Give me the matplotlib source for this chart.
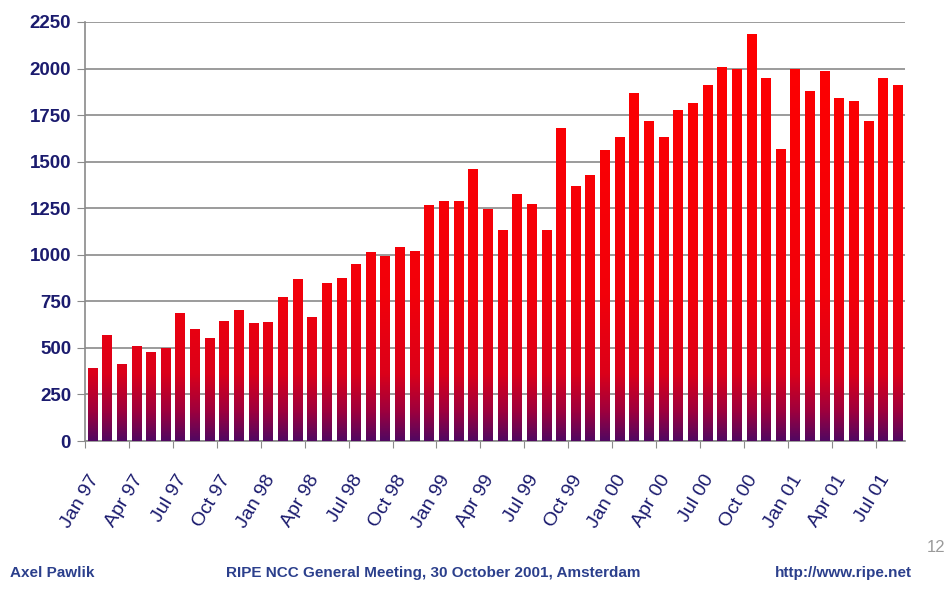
import matplotlib
matplotlib.use("Agg")
import matplotlib.pyplot as plt
import numpy as np
from matplotlib.colors import LinearSegmentedColormap

months = ["Jan", "Feb", "Mar", "Apr", "May", "Jun", "Jul", "Aug", "Sep", "Oct", "Nov", "Dec"]
categories = [f"{m} {y:02d}" for y in (97, 98, 99, 0, 1) for m in months][:56]
values = [390, 570, 415, 510, 480, 500, 690, 600, 555, 645, 705, 635,
          640, 775, 870, 665, 850, 875, 950, 1015, 995, 1040, 1020, 1265,
          1290, 1290, 1460, 1245, 1135, 1325, 1270, 1135, 1680, 1370, 1430, 1560,
          1630, 1870, 1720, 1630, 1780, 1815, 1910, 2010, 2000, 2185, 1950, 1570,
          2000, 1880, 1985, 1840, 1825, 1720, 1950, 1910]
yticks = [0, 250, 500, 750, 1000, 1250, 1500, 1750, 2000, 2250]

navy = "#1b1b6e"
foot = "#2b3f8c"

plt.rcParams['font.family'] = ['Liberation Sans', 'DejaVu Sans']

fig = plt.figure(figsize=(9.48, 5.92), dpi=100)
ax = fig.add_axes([85/948, 1-441/592, 820/948, 419/592])

x = np.arange(len(values))
bw = 0.64
bars = ax.bar(x, values, width=bw, color="none", edgecolor="none", zorder=3)

cmap = LinearSegmentedColormap.from_list(
    "rg", [(0.0, (0.32, 0.03, 0.38)), (0.07, (0.62, 0.0, 0.24)),
           (0.16, (0.86, 0.0, 0.10)), (0.35, (0.95, 0.0, 0.04)), (1.0, (1.0, 0.0, 0.0))])
grad = np.linspace(0, 1, 512).reshape(-1, 1)
for b in bars:
    x0, w = b.get_x(), b.get_width()
    im = ax.imshow(grad, cmap=cmap, origin="lower", aspect="auto",
                   extent=(x0, x0 + w, 0, 2250), zorder=3, interpolation="bilinear")
    im.set_clip_path(b)

ax.set_xlim(-0.5, len(values) - 0.5)
ax.set_ylim(0, 2250)
ax.set_yticks(yticks)
ax.set_yticklabels([str(t) for t in yticks], fontsize=13.5, fontweight="bold", color=navy)
ax.grid(axis="y", color="#8a8a8a", linewidth=1.2, zorder=0)
ax.set_axisbelow(True)

for s in ("top", "right"):
    ax.spines[s].set_visible(False)
ax.spines["left"].set_color("#8a8a8a")
ax.spines["bottom"].set_color("#8a8a8a")
ax.spines["left"].set_linewidth(1.2)
ax.spines["bottom"].set_linewidth(1.2)
ax.tick_params(axis="y", length=6, color="#8a8a8a", pad=4)

ax.set_xticks(np.arange(-0.5, len(values), 3))
ax.set_xticklabels([])
ax.tick_params(axis="x", length=5, color="#8a8a8a")
for i in range(0, len(values), 3):
    ax.text(i + 0.2, -190, categories[i], rotation=59, ha="right", va="center",
            rotation_mode="anchor", fontsize=14, color=navy, clip_on=False)

fig.text(10/948, 1-573/592, "Axel Pawlik", fontsize=11, fontweight="bold", color=foot, va="center")
fig.text(433/948, 1-573/592, "RIPE NCC General Meeting, 30 October 2001, Amsterdam",
         fontsize=11, fontweight="bold", color=foot, va="center", ha="center")
fig.text(912/948, 1-573/592, "http://www.ripe.net", fontsize=11, fontweight="bold",
         color=foot, va="center", ha="right")
fig.text(945/948, 1-548/592, "12", fontsize=12, color="#9a9a9a", va="center", ha="right")

fig.savefig("out.png", dpi=100)
